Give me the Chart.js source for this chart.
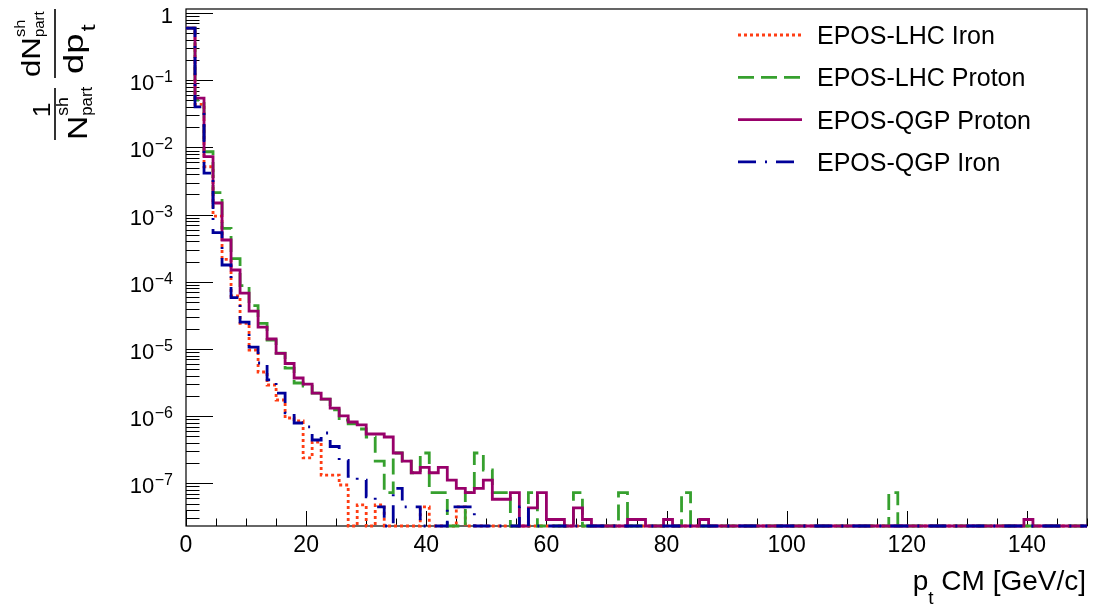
<!DOCTYPE html>
<html>
<head>
<meta charset="utf-8">
<script src="https://cdn.jsdelivr.net/npm/chart.js@4.4.1/dist/chart.umd.min.js"></script>
<style>
html, body { margin: 0; padding: 0; background: #fff; }
#wrap { position: relative; width: 1094px; height: 608px; }
</style>
</head>
<body>
<div id="wrap"><canvas id="myChart"></canvas></div>
<script>
// histogram binning (100 bins of 1.5 GeV/c from 0 to 150)
const BIN_W = 1.5;
const X_MIN = 0, X_MAX = 150;
const Y_MIN = 2.32e-8, Y_MAX = 1.15;

const seriesLabels = ["EPOS-LHC Iron", "EPOS-LHC Proton", "EPOS-QGP Proton", "EPOS-QGP Iron"];
const xTickLabels = [0, 20, 40, 60, 80, 100, 120, 140];
const yDecades = [0, -1, -2, -3, -4, -5, -6, -7];

// bin contents (0 = empty bin)
const lhcIron = [
  0.598, 0.0438, 5.16e-3, 9.5e-4, 2.16e-4, 6.15e-5, 2.40e-5, 9.66e-6, 4.55e-6, 2.91e-6,
  1.74e-6, 9.4e-7, 8.49e-7, 2.39e-7, 4.13e-7, 1.33e-7, 1.33e-7, 9.46e-8, 0, 4.77e-8,
  0, 4.77e-8, 0, 0, 0, 0, 4.46e-8, 0, 0, 0,
  4.46e-8, 0, 0, 0, 0, 0, 0, 0, 0, 0,
  0, 0, 0, 0, 0, 0, 0, 0, 0, 0,
  0, 0, 0, 0, 0, 0, 0, 0, 0, 0,
  0, 0, 0, 0, 0, 0, 0, 0, 0, 0,
  0, 0, 0, 0, 0, 0, 0, 0, 0, 0,
  0, 0, 0, 0, 0, 0, 0, 0, 0, 0,
  0, 0, 0, 0, 0, 0, 0, 0, 0, 0
];
const lhcProton = [
  0.598, 0.0507, 8.63e-3, 2.12e-3, 6.25e-4, 2.21e-4, 8.75e-5, 4.41e-5, 2.40e-5, 1.36e-5,
  8.7e-6, 5.21e-6, 3.12e-6, 2.81e-6, 2.21e-6, 1.80e-6, 1.24e-6, 8.77e-7, 7.66e-7, 6.45e-7,
  4.90e-7, 2.15e-7, 7.27e-8, 2.83e-7, 2.15e-7, 1.44e-7, 2.83e-7, 7.27e-8, 7.27e-8, 0,
  0, 7.27e-8, 2.83e-7, 1.58e-7, 7.27e-8, 7.27e-8, 0, 0, 7.27e-8, 0,
  0, 0, 0, 7.27e-8, 0, 0, 0, 0, 7.27e-8, 0,
  0, 0, 0, 0, 0, 7.27e-8, 0, 0, 0, 0,
  0, 0, 0, 0, 0, 0, 0, 0, 0, 0,
  0, 0, 0, 0, 0, 0, 0, 0, 7.27e-8, 0,
  0, 0, 0, 0, 0, 0, 0, 0, 0, 0,
  0, 0, 0, 0, 0, 0, 0, 0, 0, 0
];
const qgpProton = [
  0.598, 0.0543, 7.28e-3, 1.49e-3, 4.19e-4, 1.50e-4, 6.81e-5, 3.67e-5, 2.12e-5, 1.41e-5,
  8.6e-6, 6.08e-6, 3.70e-6, 3.01e-6, 2.21e-6, 1.80e-6, 1.32e-6, 1.01e-6, 8.2e-7, 7.4e-7,
  5.43e-7, 5.43e-7, 4.90e-7, 2.83e-7, 2.15e-7, 1.44e-7, 1.73e-7, 1.44e-7, 1.73e-7, 1.12e-7,
  8.45e-8, 7.27e-8, 8.45e-8, 1.12e-7, 5.80e-8, 5.80e-8, 7.27e-8, 0, 4.31e-8, 7.27e-8,
  2.9e-8, 2.9e-8, 0, 4.31e-8, 2.9e-8, 0, 0, 0, 0, 2.9e-8,
  2.9e-8, 0, 0, 2.9e-8, 0, 0, 0, 2.9e-8, 0, 0,
  0, 0, 0, 0, 0, 0, 0, 0, 0, 0,
  0, 0, 0, 0, 0, 0, 0, 0, 0, 0,
  0, 0, 0, 0, 0, 0, 0, 0, 0, 0,
  0, 0, 0, 2.9e-8, 0, 0, 0, 0, 0, 0
];
const qgpIron = [
  0.598, 0.0403, 4.16e-3, 5.38e-4, 1.78e-4, 5.8e-5, 2.52e-5, 1.07e-5, 6.19e-6, 3.46e-6,
  2.21e-6, 1.12e-6, 7.92e-7, 6.91e-7, 4.42e-7, 5.62e-7, 3.54e-7, 2.2e-7, 1.27e-7, 1.12e-7,
  6.3e-8, 4.46e-8, 0, 8.45e-8, 4.46e-8, 4.46e-8, 0, 0, 0, 4.46e-8,
  4.46e-8, 4.46e-8, 0, 0, 0, 0, 0, 4.46e-8, 0, 0,
  0, 0, 0, 0, 0, 0, 0, 0, 0, 0,
  0, 0, 0, 0, 0, 0, 0, 0, 0, 0,
  0, 0, 0, 0, 0, 0, 0, 0, 0, 0,
  0, 0, 0, 0, 0, 0, 0, 0, 0, 0,
  0, 0, 0, 0, 0, 0, 0, 0, 0, 0,
  0, 0, 0, 0, 0, 0, 0, 0, 0, 0
];

const FONT = '"Liberation Sans", Arial, Helvetica, sans-serif';
const font = (px) => px + "px " + FONT;

// turn bin contents into step points (left edges + closing point at the end)
function histPoints(values) {
  const pts = values.map((v, i) => ({ x: X_MIN + i * BIN_W, y: v > 0 ? v : Y_MIN }));
  pts.push({ x: X_MIN + values.length * BIN_W, y: pts[pts.length - 1].y });
  return pts;
}

function histDataset(label, values, color, dash, order) {
  return {
    label: label,
    data: histPoints(values),
    borderColor: color,
    borderWidth: 2.8,
    borderDash: dash,
    stepped: "before", // horizontal at the bin value, then vertical at the next edge
    pointRadius: 0,
    fill: false,
    clip: false,
    order: order
  };
}

const datasets = [
  histDataset(seriesLabels[0], lhcIron, "#ff3d14", [3, 3], 4),
  histDataset(seriesLabels[1], lhcProton, "#36a02e", [16, 7], 3),
  histDataset(seriesLabels[2], qgpProton, "#98006a", [], 2),
  histDataset(seriesLabels[3], qgpIron, "#00009a", [18, 9, 2, 9], 1)
];

// text drawn with a stretch along the writing direction
function stretchText(ctx, str, x, y, size, sx) {
  ctx.save();
  ctx.font = font(size);
  ctx.translate(x, y);
  ctx.scale(sx, 1);
  ctx.fillText(str, 0, 0);
  const w = ctx.measureText(str).width * sx;
  ctx.restore();
  return w;
}
function textW(ctx, str, size, sx) {
  ctx.font = font(size);
  return ctx.measureText(str).width * sx;
}

// frame + inward ticks like a ROOT canvas
const rootFrame = {
  id: "rootFrame",
  beforeDatasetsDraw(chart) {
    const { ctx, chartArea: a, scales: { x, y } } = chart;
    ctx.save();
    ctx.strokeStyle = "#000";
    ctx.lineWidth = 1.2;
    ctx.strokeRect(a.left, a.top, a.right - a.left, a.bottom - a.top);
    ctx.lineWidth = 1;
    ctx.beginPath();
    for (let e = 0; e >= -8; e--) {
      for (let k = 1; k <= 9; k++) {
        const v = k * Math.pow(10, e);
        if (v < Y_MIN || v > Y_MAX) continue;
        const py = Math.round(y.getPixelForValue(v)) + 0.5;
        const len = k === 1 ? 27 : 13.5;
        ctx.moveTo(a.left, py);
        ctx.lineTo(a.left + len, py);
      }
    }
    for (let t = X_MIN; t <= X_MAX; t += 5) {
      const px = Math.round(x.getPixelForValue(t)) + 0.5;
      const len = t % 20 === 0 ? 15 : 7.5;
      ctx.moveTo(px, a.bottom);
      ctx.lineTo(px, a.bottom - len);
    }
    ctx.stroke();
    ctx.restore();
  },
  afterDraw(chart) {
    const { ctx, chartArea: a, scales: { x, y } } = chart;
    ctx.save();
    ctx.fillStyle = "#000";
    ctx.textBaseline = "alphabetic";

    // y tick labels
    ctx.textAlign = "right";
    const yLabRight = 173;
    yDecades.forEach((e) => {
      const py = y.getPixelForValue(Math.pow(10, e));
      if (e === 0) {
        ctx.font = font(22);
        ctx.fillText("1", yLabRight, py + 10);
      } else {
        const sup = "\u2212" + (-e);
        ctx.font = font(16);
        const w = ctx.measureText(sup).width;
        ctx.fillText(sup, yLabRight, py + 2);
        ctx.font = font(22);
        ctx.fillText("10", yLabRight - w - 0.5, py + 10);
      }
    });

    // x tick labels
    ctx.textAlign = "center";
    ctx.font = font(23);
    xTickLabels.forEach((t) => {
      ctx.fillText(String(t), x.getPixelForValue(t), a.bottom + 26);
    });

    // x title: p_t CM [GeV/c]
    ctx.textAlign = "left";
    ctx.font = font(28);
    const rest = " CM [GeV/c]";
    const wRest = ctx.measureText(rest).width;
    const wP = ctx.measureText("p").width;
    ctx.font = font(19);
    const wT = ctx.measureText("t").width;
    const xRest = 1086 - wRest;
    const xT = xRest - wT;
    const xP = xT - wP;
    ctx.font = font(28);
    ctx.fillText("p", xP, 590);
    ctx.fillText(rest, xRest, 590);
    ctx.font = font(19);
    ctx.fillText("t", xT, 604);

    // y title: (1 / N^sh_part) (dN^sh_part / dp_t), rotated
    ctx.save();
    ctx.translate(55, 140);
    ctx.rotate(-Math.PI / 2);
    ctx.textAlign = "left";
    ctx.lineWidth = 1.6;
    ctx.strokeStyle = "#000";
    ctx.beginPath();
    ctx.moveTo(0, 0); ctx.lineTo(52, 0);
    ctx.moveTo(62, 0); ctx.lineTo(131, 0);
    ctx.stroke();
    // lower fraction: 1 / N^sh_part
    const w1 = textW(ctx, "1", 24, 1.1);
    stretchText(ctx, "1", 30 - w1 / 2, -5, 24, 1.1);
    const wN = stretchText(ctx, "N", 0, 32, 28, 1.2);
    stretchText(ctx, "sh", wN, 13, 16, 1.1);
    stretchText(ctx, "part", wN, 37, 16, 1.05);
    // upper fraction: dN^sh_part / dp_t
    let u = 63;
    u += stretchText(ctx, "d", u, -15, 26, 1.2);
    u += stretchText(ctx, "N", u, -15, 26, 1.2);
    stretchText(ctx, "sh", u, -30, 15, 1.1);
    stretchText(ctx, "part", u, -11, 15, 1.0);
    const wdp = stretchText(ctx, "dp", 66, 28, 28, 1.3);
    stretchText(ctx, "t", 66 + wdp + 2, 40, 20, 1.3);
    ctx.restore();

    // legend (no box)
    chart.data.datasets.forEach((ds, i) => {
      const ry = 35 + 42.3 * i;
      ctx.save();
      ctx.strokeStyle = ds.borderColor;
      ctx.lineWidth = ds.borderWidth;
      ctx.setLineDash(ds.borderDash);
      ctx.beginPath();
      ctx.moveTo(738, ry);
      ctx.lineTo(802, ry);
      ctx.stroke();
      ctx.restore();
      ctx.font = font(25);
      ctx.textAlign = "left";
      ctx.fillStyle = "#000";
      ctx.fillText(ds.label, 817, ry + 9);
    });
    ctx.restore();
  }
};

const config = {
  type: "line",
  data: { datasets: datasets },
  options: {
    responsive: true,
    maintainAspectRatio: false,
    animation: false,
    layout: { padding: { left: 186, right: 7, top: 9, bottom: 82 } },
    plugins: { legend: { display: false }, tooltip: { enabled: false } },
    scales: {
      x: { type: "linear", min: X_MIN, max: X_MAX, display: false },
      y: { type: "logarithmic", min: Y_MIN, max: Y_MAX, display: false }
    }
  },
  plugins: [rootFrame]
};

const myChart = new Chart(document.getElementById("myChart"), config);
</script>
</body>
</html>
